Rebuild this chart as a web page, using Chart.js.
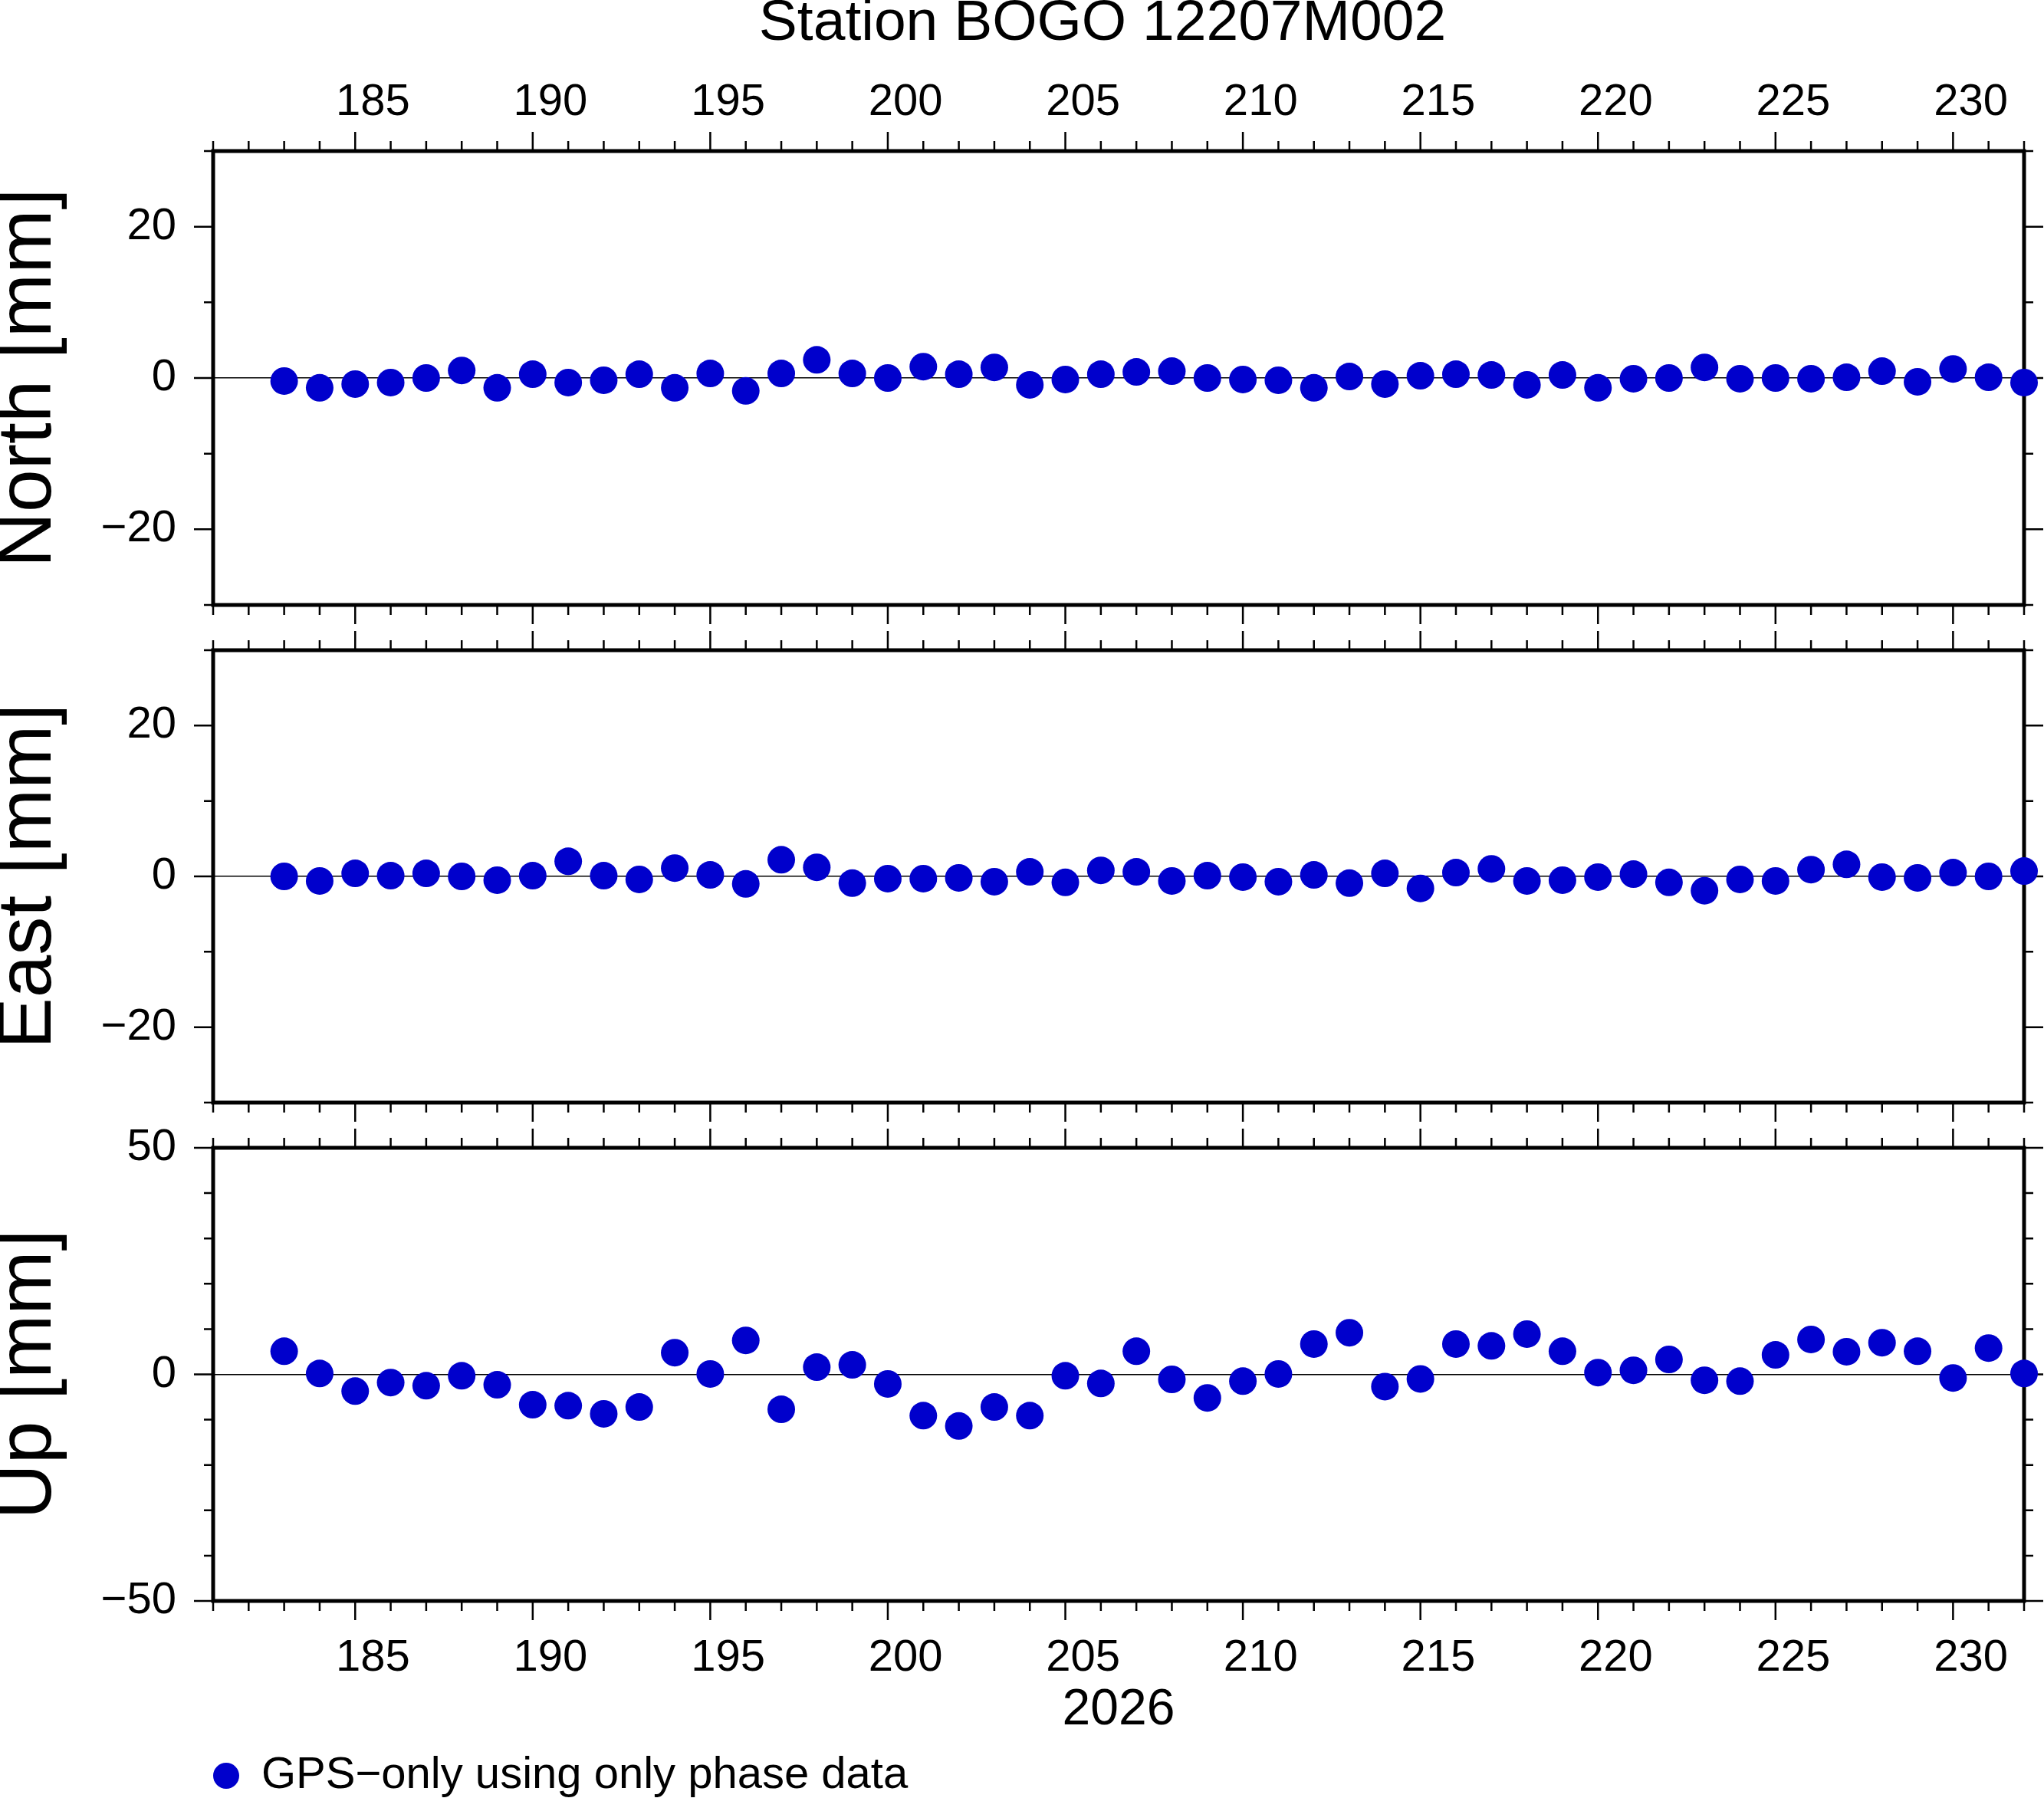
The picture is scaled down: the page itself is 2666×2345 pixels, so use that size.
<!DOCTYPE html>
<html>
<head>
<meta charset="utf-8">
<script src="https://cdn.jsdelivr.net/npm/chart.js@4.4.1/dist/chart.umd.min.js"></script>
<style>
html, body { margin: 0; padding: 0; background: #ffffff; overflow: hidden; width: 2666px; height: 2345px; }
.panel { position: absolute; left: 0; width: 2876px; }
</style>
</head>
<body>
<div class="panel" style="top:0px;height:818px"><canvas id="cNorth"></canvas></div>
<div class="panel" style="top:818px;height:649px"><canvas id="cEast"></canvas></div>
<div class="panel" style="top:1467px;height:878px"><canvas id="cUp"></canvas></div>
<script>
// ---------------- data ----------------
const titleText = 'Station BOGO 12207M002';
const seriesLabel = 'GPS\u2212only using only phase data';
const yearLabel = '2026';

const days = [183, 184, 185, 186, 187, 188, 189, 190, 191, 192,
              193, 194, 195, 196, 197, 198, 199, 200, 201, 202,
              203, 204, 205, 206, 207, 208, 209, 210, 211, 212,
              213, 214, 215, 216, 217, 218, 219, 220, 221, 222,
              223, 224, 225, 226, 227, 228, 229, 230, 231, 232];

const north = [-0.4, -1.3, -0.8, -0.6, 0.0, 1.0, -1.3, 0.5, -0.6, -0.3,
               0.5, -1.3, 0.6, -1.7, 0.6, 2.4, 0.6, 0.0, 1.5, 0.5,
               1.4, -0.9, -0.2, 0.5, 0.8, 0.9, 0.0, -0.2, -0.3, -1.3,
               0.2, -0.8, 0.3, 0.5, 0.4, -0.9, 0.4, -1.3, -0.1, 0.0,
               1.4, -0.1, 0.0, -0.1, 0.1, 0.9, -0.5, 1.2, 0.1, -0.6];

const east = [0.0, -0.6, 0.4, 0.1, 0.4, 0.0, -0.5, 0.1, 2.0, 0.1,
              -0.4, 1.1, 0.2, -1.0, 2.2, 1.2, -0.9, -0.3, -0.3, -0.2,
              -0.7, 0.6, -0.8, 0.8, 0.6, -0.6, 0.1, -0.1, -0.7, 0.2,
              -0.9, 0.4, -1.6, 0.5, 1.0, -0.6, -0.5, -0.1, 0.3, -0.8,
              -1.9, -0.4, -0.6, 0.9, 1.6, -0.1, -0.2, 0.5, 0.0, 0.7];

const up = [5.1, 0.2, -3.7, -1.8, -2.5, -0.3, -2.3, -6.7, -6.9, -8.7,
            -7.2, 4.8, 0.1, 7.5, -7.7, 1.6, 2.1, -2.1, -9.1, -11.4,
            -7.2, -9.1, -0.3, -2.0, 5.1, -1.1, -5.2, -1.5, 0.1, 6.7,
            9.2, -2.7, -1.0, 6.7, 6.3, 8.9, 5.1, 0.4, 0.9, 3.3,
            -1.3, -1.5, 4.3, 7.7, 5.0, 7.0, 5.1, -0.8, 5.8, 0.2];

const dayTickLabels = ['185', '190', '195', '200', '205', '210', '215', '220', '225', '230'];
const neTicks = [-20, 0, 20];
const neTickLabels = ['\u221220', '0', '20'];
const upTicks = [-50, 0, 50];
const upTickLabels = ['\u221250', '0', '50'];

const X_MIN = 181, X_MAX = 232;
const NE_MIN = -30, NE_MAX = 30;
const UP_MIN = -50, UP_MAX = 50;

// ---------------- style ----------------
const FONT = "'Liberation Sans', Arial, Helvetica, sans-serif";
const DOT = '#0000CC';
const PLOT_LEFT = 278;
const RIGHT_AXIS_W = 236;

function pts(vals) { return days.map((d, i) => ({ x: d, y: vals[i] })); }

// GMT-style frame with outward minor/major ticks, drawn through the chart scales
const gmtFrame = {
  id: 'gmtFrame',
  beforeDatasetsDraw(chart, args, opts) {
    const { ctx, chartArea: a } = chart;
    const xs = chart.scales.x, ys = chart.scales.y;
    ctx.save();
    ctx.strokeStyle = '#000';
    ctx.lineWidth = 2.5;
    ctx.beginPath();
    for (let d = X_MIN; d <= X_MAX; d += 1) {
      const px = xs.getPixelForValue(d);
      const len = (d % 5 === 0) ? 25 : 13;
      ctx.moveTo(px, a.top); ctx.lineTo(px, a.top - len);
      ctx.moveTo(px, a.bottom); ctx.lineTo(px, a.bottom + len);
    }
    for (let v = ys.min; v <= ys.max + 1e-9; v += 10) {
      const py = ys.getPixelForValue(v);
      const len = opts.major.includes(v) ? 25 : 12;
      ctx.moveTo(a.left, py); ctx.lineTo(a.left - len, py);
      ctx.moveTo(a.right, py); ctx.lineTo(a.right + len, py);
    }
    ctx.stroke();
    ctx.lineWidth = 5;
    ctx.strokeRect(a.left, a.top, a.right - a.left, a.bottom - a.top);
    ctx.restore();
  }
};

function noEdgePadding(s) {
  s.paddingTop = 0; s.paddingBottom = 0; s.paddingLeft = 0; s.paddingRight = 0;
}

function makeChart(id, cfg) {
  return new Chart(document.getElementById(id), {
    type: 'scatter',
    data: {
      datasets: [{
        label: seriesLabel,
        data: pts(cfg.values),
        backgroundColor: DOT,
        borderWidth: 0,
        pointRadius: 18,
        pointHoverRadius: 18,
        pointStyle: 'circle',
        clip: false
      }]
    },
    options: {
      responsive: true,
      maintainAspectRatio: false,
      animation: false,
      devicePixelRatio: 1,
      events: [],
      layout: { padding: cfg.padding },
      plugins: {
        legend: cfg.legend || { display: false },
        title: cfg.title || { display: false },
        tooltip: { enabled: false },
        gmtFrame: { major: cfg.major }
      },
      scales: {
        x: cfg.x,
        y: {
          type: 'linear', position: 'left', min: cfg.min, max: cfg.max,
          afterBuildTicks: s => { s.ticks = cfg.major.map(v => ({ value: v })); },
          afterFit: s => { s.width = PLOT_LEFT; noEdgePadding(s); },
          ticks: { autoSkip: false, padding: 48, color: '#000',
                   font: { family: FONT, size: 58 },
                   callback: (v, i) => cfg.tickLabels[i] },
          grid: { drawTicks: false, lineWidth: 1.5,
                  color: c => (c.tick && c.tick.value === 0) ? '#000' : 'rgba(0,0,0,0)' },
          border: { display: false },
          title: { display: true, text: cfg.yTitle, color: '#000', padding: 0,
                   font: { family: FONT, size: 100, lineHeight: '76px' } }
        },
        yr: {
          type: 'linear', position: 'right', display: true,
          afterFit: s => { s.width = RIGHT_AXIS_W; noEdgePadding(s); },
          ticks: { display: false },
          grid: { display: false, drawTicks: false },
          border: { display: false }
        }
      }
    },
    plugins: [gmtFrame]
  });
}

const dayTickValues = () => dayTickLabels.map(l => ({ value: Number(l) + 0.5 }));

makeChart('cNorth', {
  values: north, min: NE_MIN, max: NE_MAX, major: neTicks, tickLabels: neTickLabels,
  yTitle: 'North [mm]',
  padding: { left: 0, right: 0, top: 0, bottom: 29 },
  title: { display: true, text: titleText, color: '#000', padding: 0, fullSize: true,
           font: { family: FONT, size: 75, weight: 'normal', lineHeight: '62px' } },
  x: {
    type: 'linear', position: 'top', min: X_MIN, max: X_MAX,
    afterBuildTicks: s => { s.ticks = dayTickValues(); },
    afterFit: s => { s.height = 135; noEdgePadding(s); },
    ticks: { autoSkip: false, maxRotation: 0, padding: 28, color: '#000',
             font: { family: FONT, size: 58 },
             callback: (v, i) => dayTickLabels[i] },
    grid: { display: false, drawTicks: false },
    border: { display: false }
  }
});

makeChart('cEast', {
  values: east, min: NE_MIN, max: NE_MAX, major: neTicks, tickLabels: neTickLabels,
  yTitle: 'East [mm]',
  padding: { left: 0, right: 0, top: 30, bottom: 29 },
  x: { type: 'linear', display: false, min: X_MIN, max: X_MAX,
       afterFit: s => { noEdgePadding(s); } }
});

makeChart('cUp', {
  values: up, min: UP_MIN, max: UP_MAX, major: upTicks, tickLabels: upTickLabels,
  yTitle: 'Up [mm]',
  padding: { left: 0, right: 0, top: 30, bottom: 0 },
  legend: {
    display: true, position: 'bottom', align: 'start', fullSize: false, maxHeight: 58,
    labels: { usePointStyle: true, pointStyle: 'circle', boxHeight: 24, boxWidth: 24,
              pointStyleWidth: 34, padding: 0, color: '#000',
              font: { family: FONT, size: 58 } }
  },
  x: {
    type: 'linear', position: 'bottom', min: X_MIN, max: X_MAX,
    afterBuildTicks: s => { s.ticks = dayTickValues(); },
    afterFit: s => { s.height = 199; noEdgePadding(s); },
    ticks: { autoSkip: false, maxRotation: 0, padding: 40, color: '#000',
             font: { family: FONT, size: 58 },
             callback: (v, i) => dayTickLabels[i] },
    grid: { display: false, drawTicks: false },
    border: { display: false },
    title: { display: true, text: yearLabel, color: '#000',
             padding: { top: 0, bottom: 23 },
             font: { family: FONT, size: 66, lineHeight: '66px' } }
  }
});
</script>
</body>
</html>
